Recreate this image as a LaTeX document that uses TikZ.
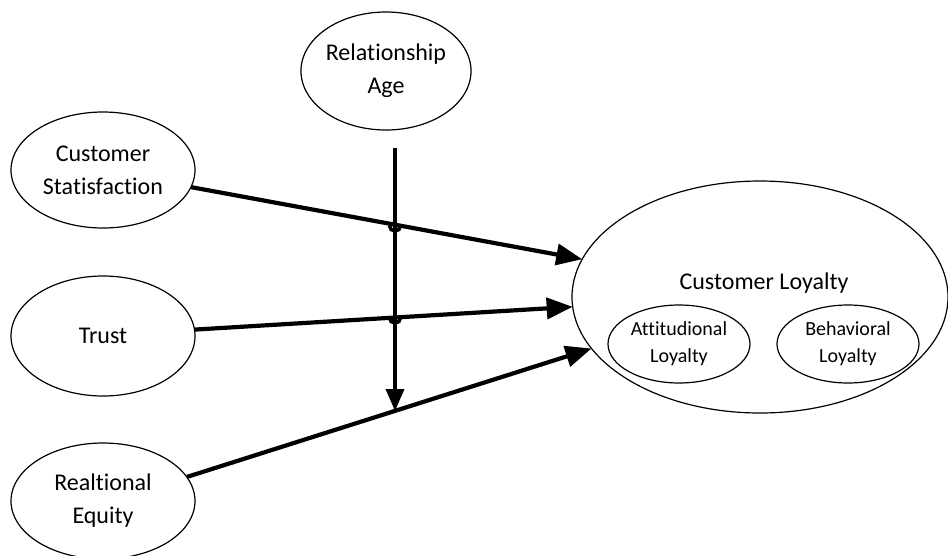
\documentclass[tikz,border=0pt]{standalone}
\usepackage{fontspec}
\setmainfont{Carlito}[Ligatures=NoCommon]
\usetikzlibrary{shapes.geometric,arrows.meta}
\begin{document}
\begin{tikzpicture}[x=1pt,y=-1pt,
  oval/.style={draw=black,line width=1.2pt,ellipse,inner sep=0pt,outer sep=0pt,align=center,
    font=\fontsize{24}{33}\selectfont},
  smalloval/.style={oval,font=\fontsize{20}{27}\selectfont},
  link/.style={line width=4.2pt,-{Triangle[length=26pt,width=21pt]}},
  vlink/.style={line width=3.6pt,-{Triangle[length=22pt,width=18pt]}},
  bump/.style={line width=3.6pt}]
\useasboundingbox (0,0) rectangle (948,555);
\node[oval,minimum width=184pt,minimum height=116pt] (cs) at (103,170) {Customer\\Statisfaction};
\node[oval,minimum width=184pt,minimum height=120pt] (tr) at (103,336) {Trust};
\node[oval,minimum width=184pt,minimum height=116pt] (re) at (103,501) {Realtional\\Equity};
\node[oval,minimum width=166pt,minimum height=118pt] (ra) at (386,71) {Relationship\\Age};
\node[oval,minimum width=376pt,minimum height=232pt] (cl) at (760,297) {};
\node[font=\fontsize{24}{33}\selectfont,anchor=base] (clt) at (764,289) {Customer Loyalty};
\node[smalloval,minimum width=142pt,minimum height=78pt] (al) at (679,344) {Attitudional\\Loyalty};
\node[smalloval,minimum width=142pt,minimum height=78pt] (bl) at (848,344) {Behavioral\\Loyalty};
\coordinate (vtop) at (395,148);
\coordinate (vbot) at (395,411);
\coordinate (x1) at (395,225.6);
\coordinate (x2) at (395,317.6);
\draw[link] (cs.-11) -- (cl.168.5);
\draw[link] (tr.4) -- (cl.183);
\draw[link] (re.16) -- (cl.197);
\draw[vlink] (vtop) -- (vbot);
\draw[bump] ([xshift=-5.5pt]x1) arc[start angle=180,end angle=360,radius=5.5pt];
\draw[bump] ([xshift=-5.5pt]x2) arc[start angle=180,end angle=360,radius=5.5pt];
\end{tikzpicture}
\end{document}
